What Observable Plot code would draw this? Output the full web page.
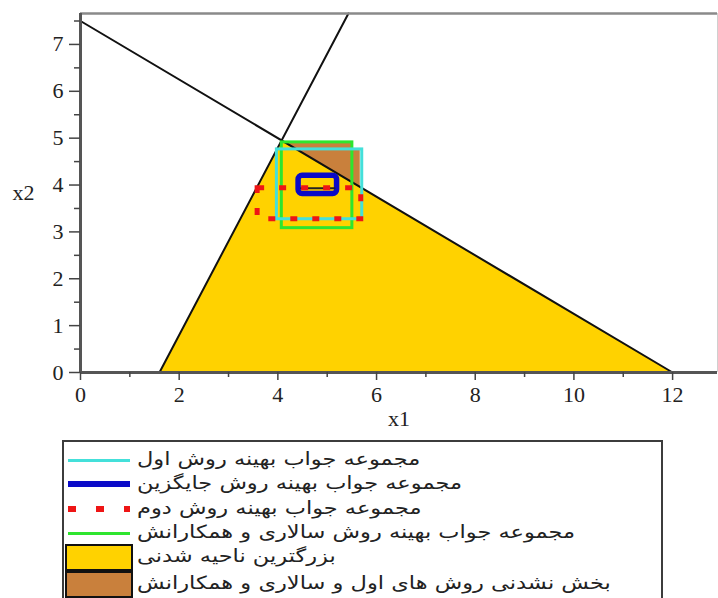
<!DOCTYPE html>
<html>
<head>
<meta charset="utf-8">
<script src="https://cdn.jsdelivr.net/npm/d3@7"></script>
<script src="https://cdn.jsdelivr.net/npm/@observablehq/plot@0.6"></script>
<style>
  html, body { margin: 0; padding: 0; background: #fff; width: 718px; height: 598px; overflow: hidden; }
  #chart { position: absolute; left: 0; top: 0; }
  #legend { position: absolute; left: 62px; top: 440px; width: 597px; height: 170px; border: 2px solid #3c3c3c; }
  .row { position: absolute; left: 0; width: 100%; }
  .txt { position: absolute; left: 73px; direction: rtl; unicode-bidi: isolate; font-family: "DejaVu Sans", sans-serif; font-size: 18px; color: #222; white-space: nowrap; line-height: 22px; transform: scaleX(1.25); transform-origin: 0 50%; }
  .ln { position: absolute; left: 4px; width: 62px; }
  .sw { position: absolute; left: 1px; width: 64px; height: 23px; border: 2px solid #111; box-sizing: content-box; }
</style>
</head>
<body>
<div id="chart"></div>
<div id="legend"></div>
<script>
// ---- data ----
const xTicks = [0, 2, 4, 6, 8, 10, 12];
const xMinorTicks = [1, 3, 5, 7, 9, 11];
const yTicks = [0, 1, 2, 3, 4, 5, 6, 7];
const yMinorTicks = [0.5, 1.5, 2.5, 3.5, 4.5, 5.5, 6.5, 7.5];
const xMax = 12.91;
const yMax = 7.66;

// constraint boundary lines
const lineAx = [0, 12];
const lineAy = [7.5, 0];
const lineBx = [1.6, 5.43];
const lineBy = [0, 7.66];

// largest feasible region
const feasX = [1.6, 12, 4.08, 1.6];
const feasY = [0, 0, 4.95, 0];

// infeasible part of the first and Salari methods
const brownX = [4.15, 5.51, 5.51, 5.66, 5.66, 4.15];
const brownY = [4.91, 4.91, 4.76, 4.76, 3.96, 4.91];

// optimal solution sets (boxes)
const setNames = ["روش اول", "روش جایگزین", "روش دوم", "روش سالاری و همکارانش"];
const setX1 = [3.98, 4.42, 3.59, 4.08];
const setX2 = [5.71, 5.20, 5.69, 5.51];
const setY1 = [3.27, 3.81, 3.27, 3.08];
const setY2 = [4.76, 4.20, 3.93, 4.91];

// short dark segment inside the alternative-method box
const segX = [4.47, 5.15];
const segY = [3.93, 3.93];

const legendLabels = [
  "مجموعه جواب بهینه روش اول",
  "مجموعه جواب بهینه روش جایگزین",
  "مجموعه جواب بهینه روش دوم",
  "مجموعه جواب بهینه روش سالاری و همکارانش",
  "بزرگترین ناحیه شدنی",
  "بخش نشدنی روش های اول و سالاری و همکارانش"
];
const colors = {cyan: "#44e0da", blue: "#0a0ac8", red: "#ee1515", green: "#2ee52e", yellow: "#ffd200", brown: "#c9803c"};

// ---- build ----
const pts = (xs, ys) => xs.map((x, i) => ({x, y: ys[i]}));
const box = i => [{x1: setX1[i], x2: setX2[i], y1: setY1[i], y2: setY2[i]}];
const serif = "Liberation Serif, Times New Roman, serif";

const chart = Plot.plot({
  width: 718,
  height: 436,
  marginLeft: 80,
  marginRight: 1,
  marginTop: 13,
  marginBottom: 64,
  x: {domain: [0, xMax]},
  y: {domain: [0, yMax]},
  style: {background: "white", overflow: "visible"},
  marks: [
    Plot.line(pts(feasX, feasY), {x: "x", y: "y", fill: colors.yellow, stroke: "none"}),
    Plot.line(pts(brownX, brownY), {x: "x", y: "y", fill: colors.brown, stroke: "none"}),
    Plot.line(pts(lineAx, lineAy), {x: "x", y: "y", stroke: "#111", strokeWidth: 2}),
    Plot.line(pts(lineBx, lineBy), {x: "x", y: "y", stroke: "#111", strokeWidth: 2}),
    Plot.rect(box(3), {x1: "x1", x2: "x2", y1: "y1", y2: "y2", fill: "none", stroke: colors.green, strokeWidth: 3}),
    Plot.rect(box(0), {x1: "x1", x2: "x2", y1: "y1", y2: "y2", fill: "none", stroke: colors.cyan, strokeWidth: 3}),
    Plot.rect(box(1), {x1: "x1", x2: "x2", y1: "y1", y2: "y2", fill: "none", stroke: colors.blue, strokeWidth: 5.5, rx: 4, strokeLinejoin: "round"}),
    Plot.line(pts(segX, segY), {x: "x", y: "y", stroke: "#222", strokeWidth: 2}),
    Plot.rect(box(2), {x1: "x1", x2: "x2", y1: "y1", y2: "y2", fill: "none", stroke: colors.red, strokeWidth: 5, strokeDasharray: "7,15"}),
    // frame / axis lines
    Plot.ruleY([yMax], {stroke: "#8a8a8a", strokeWidth: 2.5}),
    Plot.ruleX([xMax], {stroke: "#d0d0d0", strokeWidth: 1}),
    Plot.ruleY([0], {stroke: "#555", strokeWidth: 3}),
    Plot.ruleX([0], {stroke: "#555", strokeWidth: 3}),
    // axes
    Plot.axisX(xTicks, {tickSize: 8, tickPadding: 6, fontSize: 22, fontFamily: serif, fill: "#222", stroke: "#444", strokeWidth: 1.5, label: null}),
    Plot.axisX(xMinorTicks, {tickSize: 5, tickFormat: () => "", stroke: "#444", strokeWidth: 1.5, label: null}),
    Plot.axisY(yTicks, {tickSize: 11, tickPadding: 6, fontSize: 22, fontFamily: serif, fill: "#222", stroke: "#444", strokeWidth: 1.5, label: null}),
    Plot.axisY(yMinorTicks, {tickSize: 6, tickFormat: () => "", stroke: "#444", strokeWidth: 1.5, label: null}),
    Plot.text(["x2"], {frameAnchor: "left", dx: -68, fontSize: 22, fontFamily: serif, fill: "#222"}),
    Plot.text(["x1"], {frameAnchor: "bottom", dy: 53, fontSize: 22, fontFamily: serif, fill: "#222"})
  ]
});
document.getElementById("chart").appendChild(chart);

// ---- legend ----
const legend = document.getElementById("legend");
const rowCenters = [18, 42, 67, 91, 115, 142];
const sampleStyles = [
  `top:-1.5px;height:3px;background:${colors.cyan}`,
  `top:-3px;height:6px;background:${colors.blue}`,
  `top:-3px;height:6px;background:repeating-linear-gradient(90deg, ${colors.red} 0 8px, transparent 8px 28px)`,
  `top:-1.5px;height:3px;background:${colors.green}`
];
legendLabels.forEach((lab, i) => {
  const row = document.createElement("div");
  row.className = "row";
  row.style.top = rowCenters[i] + "px";
  if (i < 4) {
    const s = document.createElement("div");
    s.className = "ln";
    s.style.cssText += sampleStyles[i];
    row.appendChild(s);
  } else {
    const s = document.createElement("div");
    s.className = "sw";
    s.style.top = "-13px";
    s.style.background = i === 4 ? colors.yellow : colors.brown;
    row.appendChild(s);
  }
  const t = document.createElement("span");
  t.className = "txt";
  t.style.top = "-12px";
  t.textContent = lab;
  row.appendChild(t);
  legend.appendChild(row);
});
</script>
</body>
</html>
